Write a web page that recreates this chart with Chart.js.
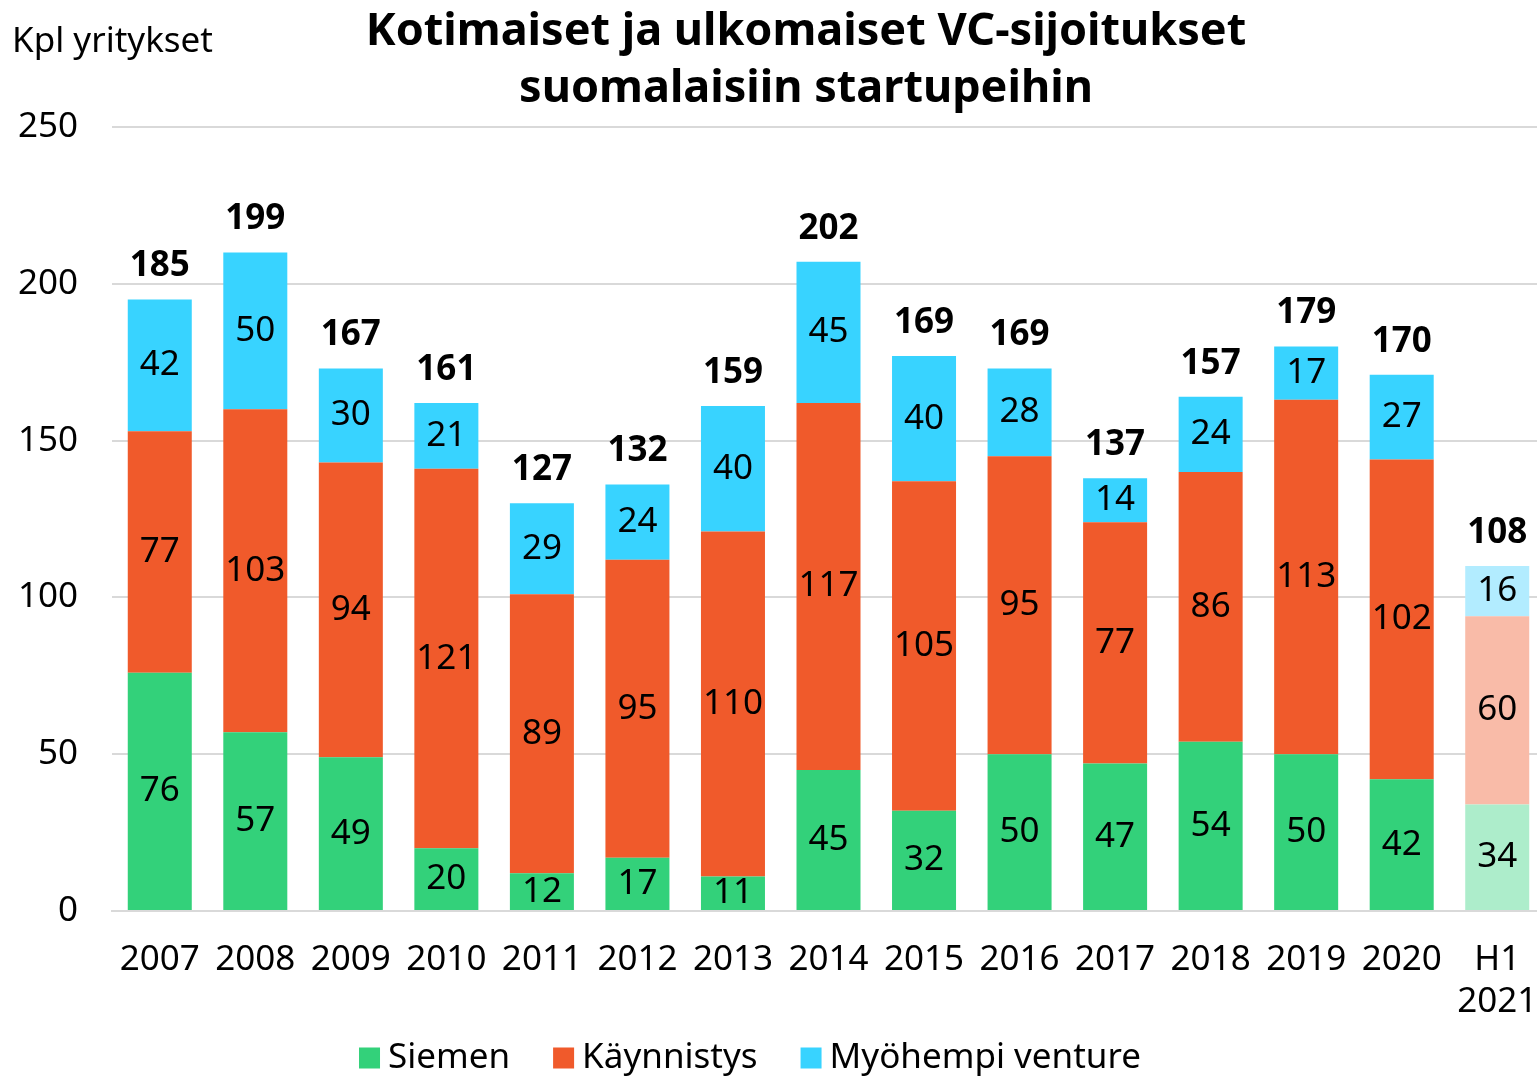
<!DOCTYPE html>
<html>
<head>
<meta charset="utf-8">
<script src="https://cdn.jsdelivr.net/npm/chart.js@4/dist/chart.umd.min.js"></script>
<style>
  html, body { margin: 0; padding: 0; background: #fff; overflow: hidden; }
  #wrap { width: 1537px; height: 1078px; overflow: hidden; }
</style>
</head>
<body>
<!-- plot runs slightly past the right edge, as in the original -->
<div id="wrap"><canvas id="vcChart" width="1545" height="1078"></canvas></div>
<script>
// Years and values
const years = ['2007', '2008', '2009', '2010', '2011', '2012', '2013', '2014', '2015', '2016', '2017', '2018', '2019', '2020', ['H1', '2021']];
const siemen = [76, 57, 49, 20, 12, 17, 11, 45, 32, 50, 47, 54, 50, 42, 34];
const kaynnistys = [77, 103, 94, 121, 89, 95, 110, 117, 105, 95, 77, 86, 113, 102, 60];
const myohempi = [42, 50, 30, 21, 29, 24, 40, 45, 40, 28, 14, 24, 17, 27, 16];
const totals = [185, 199, 167, 161, 127, 132, 159, 202, 169, 169, 137, 157, 179, 170, 108];
const yTicks = [0, 50, 100, 150, 200, 250];

const FONT = '"Noto Sans", sans-serif';

// last bar (H1 2021) is shown in a lighter tint
const shade = (full, light) => years.map((y, i) => i === years.length - 1 ? light : full);

const labelPlugin = {
  id: 'labels',
  afterDatasetsDraw(chart) {
    const ctx = chart.ctx;
    const sets = chart.data.datasets;
    ctx.save();
    ctx.fillStyle = '#000';
    ctx.textAlign = 'center';
    ctx.textBaseline = 'middle';
    ctx.font = '35px ' + FONT;
    sets.forEach((ds, di) => {
      chart.getDatasetMeta(di).data.forEach((bar, i) => {
        ctx.fillText(ds.data[i], bar.x, (bar.y + bar.base) / 2);
      });
    });
    // totals above each stack
    ctx.font = 'bold 35px ' + FONT;
    chart.getDatasetMeta(sets.length - 1).data.forEach((bar, i) => {
      ctx.fillText(totals[i], bar.x, bar.y - 33);
    });
    // title and axis caption
    ctx.font = 'bold 45px ' + FONT;
    ctx.fillText('Kotimaiset ja ulkomaiset VC-sijoitukset', 806, 32);
    ctx.fillText('suomalaisiin startupeihin', 806, 89);
    ctx.font = '35px ' + FONT;
    ctx.textAlign = 'left';
    ctx.fillText('Kpl yritykset', 12, 42);

    // legend row at the bottom
    ctx.font = '35px ' + FONT;
    const box = 21, gap = 8, itemGap = 43;
    const widths = sets.map(ds => box + gap + ctx.measureText(ds.label).width);
    const total = widths.reduce((a, b) => a + b, 0) + itemGap * (sets.length - 1);
    let x = 750 - total / 2;
    const ly = 1058;
    sets.forEach((ds, di) => {
      ctx.fillStyle = ds.backgroundColor[0];
      ctx.fillRect(x, ly - box / 2, box, box);
      ctx.fillStyle = '#000';
      ctx.fillText(ds.label, x + box + gap, ly);
      x += widths[di] + itemGap;
    });
    ctx.restore();
  }
};

const ctx = document.getElementById('vcChart').getContext('2d');
const vcChart = new Chart(ctx, {
  type: 'bar',
  data: {
    labels: years,
    datasets: [
      { label: 'Siemen', data: siemen, backgroundColor: shade('#33d17a', '#adedcb') },
      { label: 'Käynnistys', data: kaynnistys, backgroundColor: shade('#f05a2b', '#f9bba8') },
      { label: 'Myöhempi venture', data: myohempi, backgroundColor: shade('#38d3ff', '#b2ecff') }
    ]
  },
  options: {
    responsive: false,
    animation: false,
    barPercentage: 1,
    categoryPercentage: 0.67,
    layout: { padding: { top: 127, right: 0, left: 0, bottom: 0 } },
    scales: {
      x: {
        stacked: true,
        grid: { display: false },
        border: { color: '#d9d9d9', width: 2 },
        ticks: { color: '#000', font: { family: FONT, size: 35 }, padding: 20, maxRotation: 0, autoSkip: false },
        afterFit(scale) {
          scale.height = 167;
          scale.paddingLeft = 0;
          scale.paddingRight = 0;
        }
      },
      y: {
        stacked: true,
        min: 0,
        max: 250,
        afterBuildTicks(scale) { scale.ticks = yTicks.map(v => ({ value: v })); },
        grid: { color: '#d9d9d9', lineWidth: 2, drawTicks: false },
        border: { display: false },
        ticks: { color: '#000', font: { family: FONT, size: 35 }, padding: 34 },
        afterFit(scale) { scale.width = 112; }
      }
    },
    plugins: {
      tooltip: { enabled: false },
      legend: { display: false }
    }
  },
  plugins: [labelPlugin]
});
</script>
</body>
</html>
